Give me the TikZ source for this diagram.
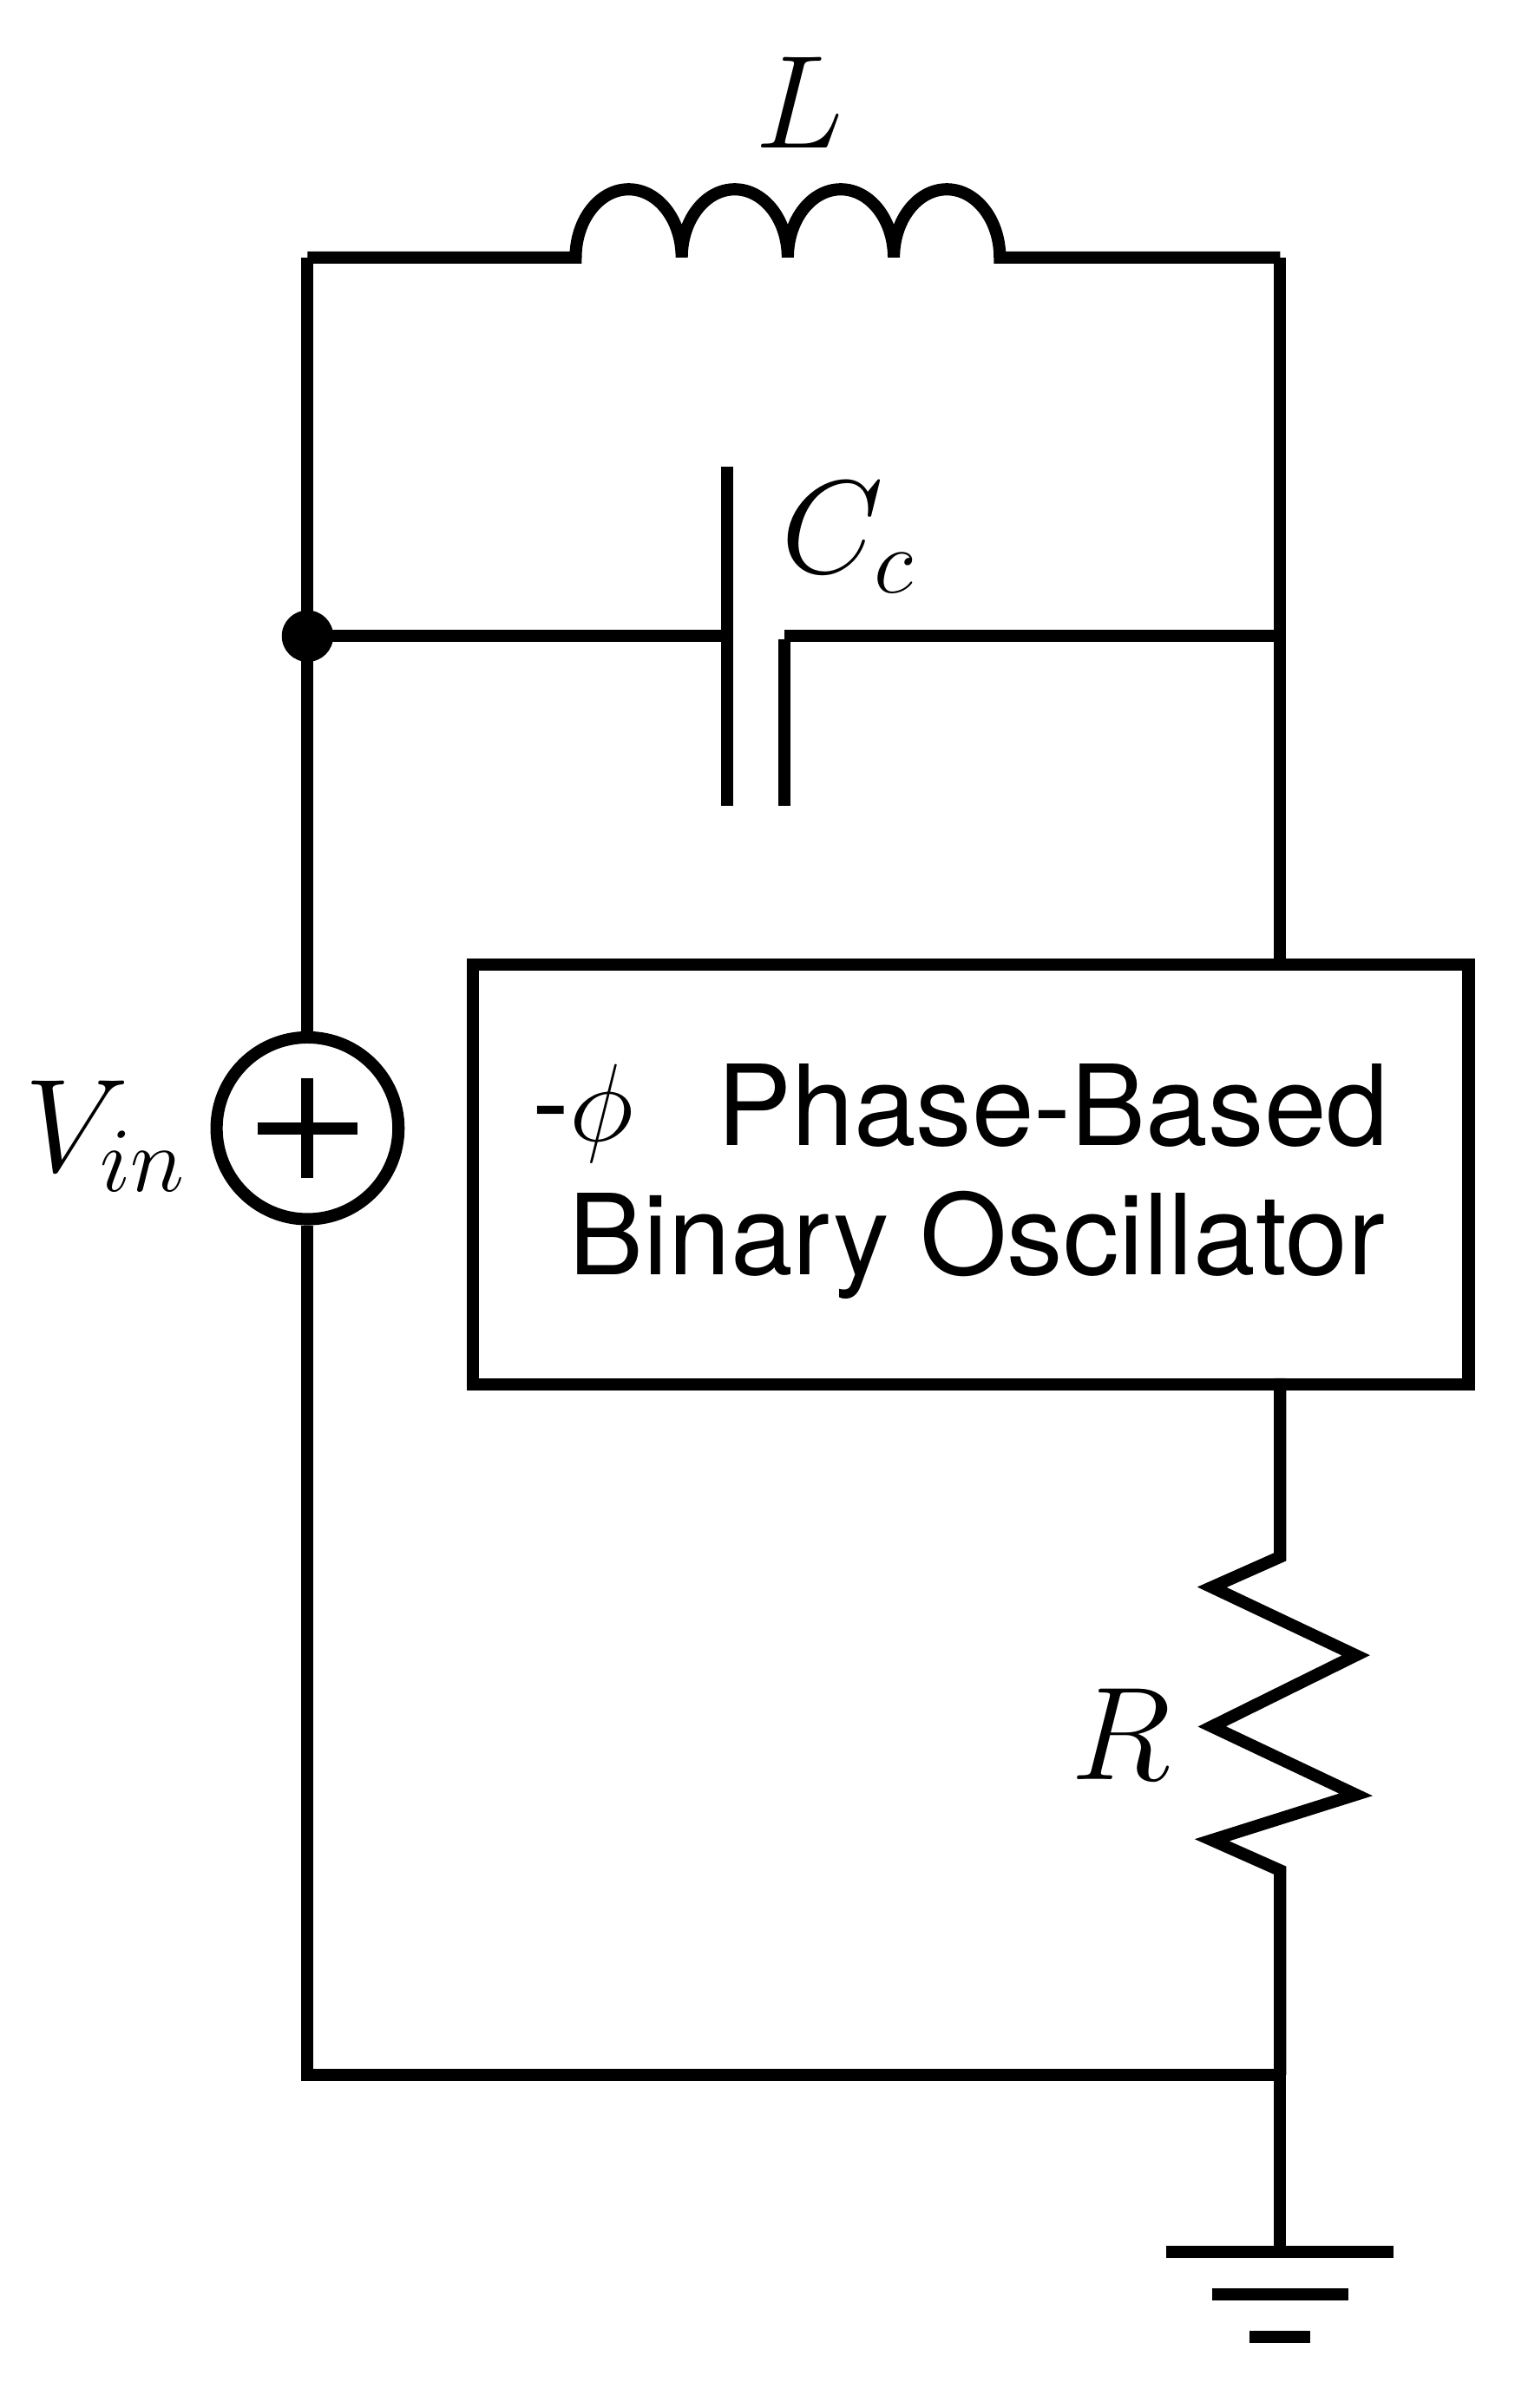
\documentclass[tikz,border=0pt]{standalone}
\usepackage{fontspec}
\newfontfamily\hv{TeX Gyre Heros}
\begin{document}
\begin{tikzpicture}[x=0.01cm,y=-0.01cm,line width=2.3pt,
  lbl/.style={font=\fontsize{26}{30}\selectfont},
  txt/.style={font=\hv\fontsize{21}{25}\selectfont}]
\useasboundingbox (0,0) rectangle (1000,1590);
\coordinate (tl) at (203,170); \coordinate (tr) at (845,170);
\coordinate (bl) at (203,1370); \coordinate (br) at (845,1370);
% top wire + inductor
\draw (tl) -- (380,170)
  arc[start angle=180,end angle=0,x radius=35,y radius=-45]
  arc[start angle=180,end angle=0,x radius=35,y radius=-45]
  arc[start angle=180,end angle=0,x radius=35,y radius=-45]
  arc[start angle=180,end angle=0,x radius=35,y radius=-45] -- (tr);
\node[lbl] (L) at (528,68) {$L$};
% left wire with source
\node[draw,circle,minimum size=1.2cm,inner sep=0pt] (V) at (203,745) {};
\draw (V.center)+(-33,0) -- +(33,0) (V.center)+(0,-33) -- +(0,33);
\draw (tl) -- (V.north);
\draw (V.south) -- (bl) -- (br);
\node[lbl] (Vl) at (70,750) {$V_{in}$};
% capacitor
\coordinate (cn) at (203,420);
\fill (cn) circle (17);
\draw (cn) -- (480,420);
\draw (480,308) -- (480,532);
\draw (518,422) -- (518,532);
\draw (518,420) -- (845,420);
\node[lbl] (Cc) at (560,355) {$C_c$};
% right wire
\draw (tr) -- (845,633);
\node[draw,minimum width=6.57cm,minimum height=2.77cm,anchor=north west,inner sep=0pt] (box) at (308,633) {};
\node[txt] (phi) at (385,735) {-$\phi$};
\node[txt] (t1) at (695,730) {Phase-Based};
\node[txt] (t2) at (645,822) {Binary Oscillator};
\draw (845,910) -- (845,1028) -- (800,1048) -- (895,1093) -- (800,1140) -- (895,1185) -- (800,1215) -- (845,1235) -- (br);
\node[lbl] (R) at (740,1145) {$R$};
% ground
\draw (br) -- (845,1487);
\draw (770,1487) -- (920,1487);
\draw (800,1515) -- (890,1515);
\draw (825,1543) -- (865,1543);
\end{tikzpicture}
\end{document}
